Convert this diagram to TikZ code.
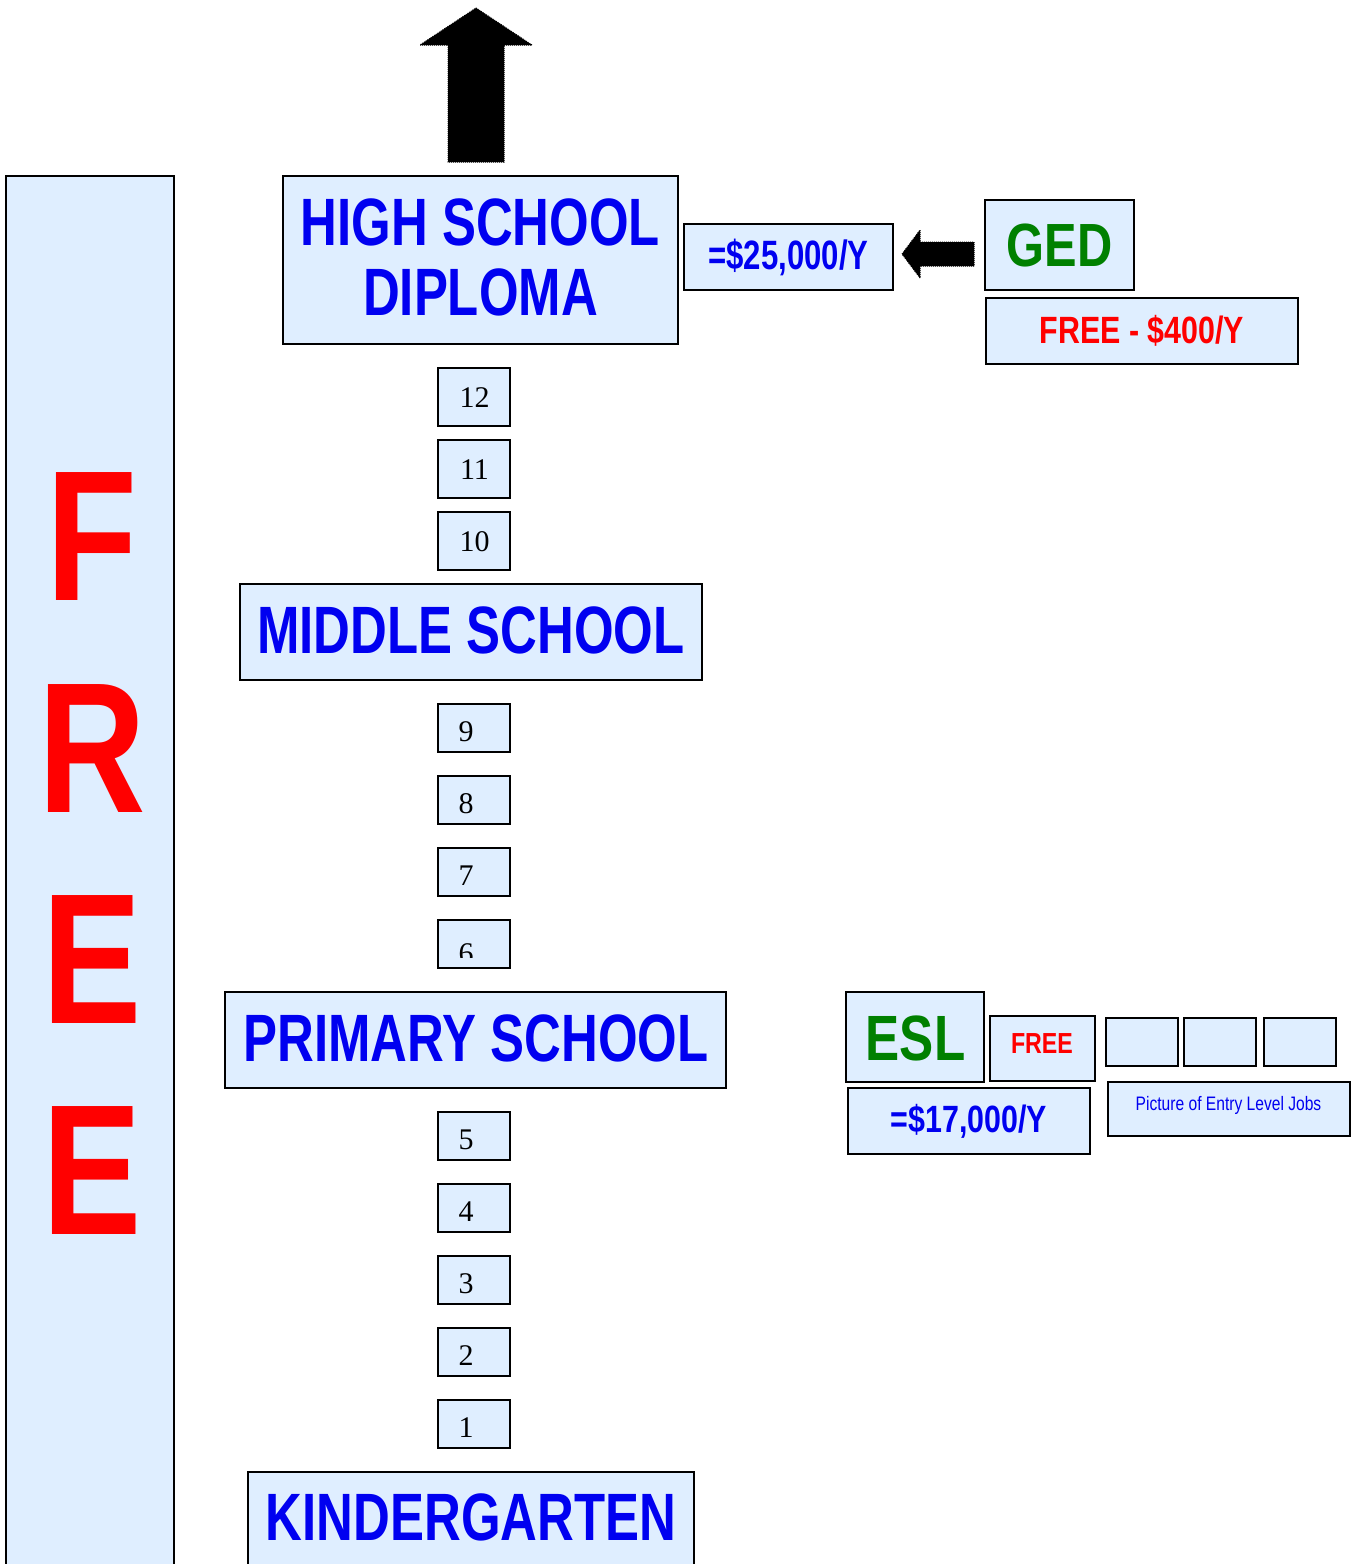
\documentclass[tikz,border=0pt]{standalone}
\usepackage{fontspec}
\newfontfamily\nar[FakeStretch=0.76]{Liberation Sans}
\newfontfamily\narw[FakeStretch=0.8]{Liberation Sans}
\newfontfamily\tms{Liberation Serif}
\definecolor{boxfill}{HTML}{DFEEFF}
\definecolor{tblue}{HTML}{0000F0}
\definecolor{tgreen}{HTML}{008000}
\definecolor{tred}{HTML}{FF0000}
\tikzset{
  box/.style={draw=black, line width=2pt, fill=boxfill, inner sep=0pt, outer sep=0pt},
  big/.style={font=\nar\bfseries\fontsize{67}{70}\selectfont, text=tblue},
  num/.style={font=\tms\fontsize{30}{30}\selectfont, text=black, inner sep=0pt},
  blockarrow/.style={fill=black, draw=black, line width=1pt, densely dotted},
}
\begin{document}
\begin{tikzpicture}[x=1pt,y=-1pt]
\useasboundingbox (0,0) rectangle (1356,1564);
% left FREE column
\node[box, minimum width=168, minimum height=1400, anchor=north west] (freecol) at (6,176) {};
\foreach \l/\yy [count=\i] in {F/537, R/749, E/960, E/1171}
  \node[font=\narw\bfseries\fontsize{186}{186}\selectfont, text=tred, inner sep=0pt] (free\i) at (92,\yy) {\l};
% up arrow
\fill[blockarrow] (476,8) -- (532,45) -- (504,45) -- (504,162) -- (448,162) -- (448,45) -- (420,45) -- cycle;
% high school
\node[box, minimum width=395, minimum height=168] (hs) at (480.5,260) {};
\node[big, align=center, inner sep=0pt] (hst) at (480.5,257) {HIGH SCHOOL\\DIPLOMA};
\node[box, minimum width=209, minimum height=66, font=\nar\bfseries\fontsize{41}{41}\selectfont, text=tblue] (hsval) at (788.5,257) {=\$25,000/Y};
% left arrow
\fill[blockarrow] (902,254) -- (920,230) -- (920,242) -- (974,242) -- (974,266) -- (920,266) -- (920,278) -- cycle;
\node[box, minimum width=149, minimum height=90, font=\narw\bfseries\fontsize{61}{61}\selectfont, text=tgreen] (ged) at (1059.5,245) {GED};
\node[box, minimum width=312, minimum height=66, font=\narw\bfseries\fontsize{38}{38}\selectfont, text=tred] (gedcost) at (1142,331) {FREE - \$400/Y};
% grades 10-12
\foreach \n/\yy in {12/397, 11/469, 10/541} {
  \node[box, minimum width=72, minimum height=58] (g\n) at (474,\yy) {};
  \node[num] (t\n) at (474.5,\yy+0.5) {\n};
}
\node[box, minimum width=462, minimum height=96] (ms) at (471,632) {};
\node[big, inner sep=0pt] (mst) at (471,630) {MIDDLE SCHOOL};
% grades 6-9 and 1-5
\foreach \n/\yy in {9/728, 8/800, 7/872, 5/1136, 4/1208, 3/1280, 2/1352, 1/1424} {
  \node[box, minimum width=72, minimum height=48] (g\n) at (474,\yy) {};
  \node[num] (t\n) at (466,\yy+4) {\n};
}
\node[box, minimum width=72, minimum height=48] (g6) at (474,944) {};
\begin{scope}
  \clip (430,930) rectangle (520,957);
  \node[num] (t6) at (466,954) {6};
\end{scope}
\node[box, minimum width=501, minimum height=96] (ps) at (475.5,1040) {};
\node[big, inner sep=0pt] (pst) at (476,1038) {PRIMARY SCHOOL};
\node[box, minimum width=446, minimum height=110, anchor=north] (kg) at (471,1472) {};
\node[big, inner sep=0pt] (kgt) at (471,1517) {KINDERGARTEN};
% ESL
\node[box, minimum width=138, minimum height=90] (esl) at (915,1037) {};
\node[font=\narw\bfseries\fontsize{64}{64}\selectfont, text=tgreen, inner sep=0pt] (eslt) at (915.5,1038) {ESL};
\node[box, minimum width=105, minimum height=65] (eslfree) at (1042.5,1048.5) {};
\node[font=\narw\bfseries\fontsize{29}{29}\selectfont, text=tred, inner sep=0pt] (eslfreet) at (1042,1044) {FREE};
\node[box, minimum width=72, minimum height=48] (pic1) at (1142,1042) {};
\node[box, minimum width=72, minimum height=48] (pic2) at (1220,1042) {};
\node[box, minimum width=72, minimum height=48] (pic3) at (1300,1042) {};
\node[box, minimum width=242, minimum height=66, font=\narw\bfseries\fontsize{38}{38}\selectfont, text=tblue] (eslval) at (969,1121) {=\$17,000/Y};
\node[box, minimum width=242, minimum height=54] (jobs) at (1229,1109) {};
\node[font=\narw\fontsize{19.5}{20}\selectfont, text=tblue, inner sep=0pt] (jobst) at (1228.5,1105) {Picture of Entry Level Jobs};
\end{tikzpicture}
\end{document}
